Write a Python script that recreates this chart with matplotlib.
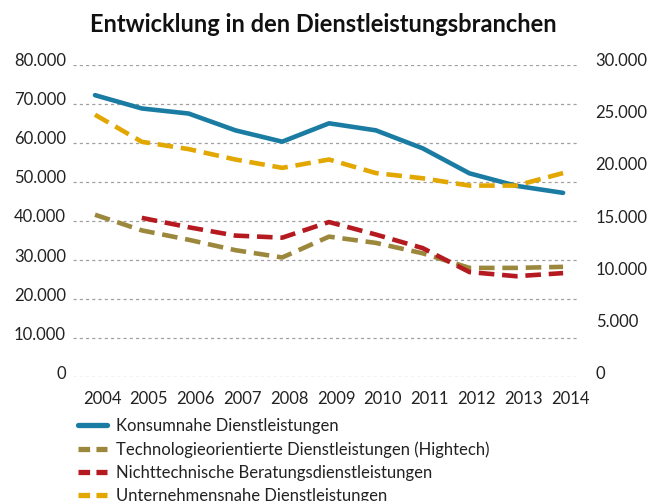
import matplotlib
matplotlib.use("Agg")
import matplotlib.pyplot as plt
from matplotlib.ticker import FuncFormatter
from matplotlib.transforms import ScaledTranslation

plt.rcParams['font.family'] = ['Lato', 'DejaVu Sans']

# Data
years = [2004, 2005, 2006, 2007, 2008, 2009, 2010, 2011, 2012, 2013, 2014]

# left axis
konsumnahe = [72200, 68800, 67500, 63200, 60300, 65000, 63200, 58600, 52200, 49000, 47200]

# right axis
technologie = [15600, 14100, 13200, 12200, 11500, 13500, 12900, 11900, 10500, 10500, 10600]
nichttechnisch_years = years[1:]
nichttechnisch = [15300, 14400, 13600, 13400, 14900, 13700, 12400, 10100, 9700, 10000]
unternehmensnahe = [25200, 22600, 21900, 20900, 20100, 20900, 19600, 19100, 18400, 18400, 19600]

labels = ["Konsumnahe Dienstleistungen",
          "Technologieorientierte Dienstleistungen (Hightech)",
          "Nichttechnische Beratungsdienstleistungen",
          "Unternehmensnahe Dienstleistungen"]

c_blue = "#1a7ca3"
c_olive = "#9c883c"
c_red = "#b51a20"
c_yellow = "#e2a700"

def de_fmt(v, pos):
    return f"{int(round(v)):,}".replace(",", ".")

fig = plt.figure(figsize=(6.61, 5.01), dpi=100)
ax = fig.add_axes([73 / 661, 1 - 377.3 / 501, (579 - 73) / 661, (377.3 - 64.7) / 501])
ax2 = ax.twinx()

dash = (3.4, 1.7)
l1, = ax.plot(years, konsumnahe, color=c_blue, lw=3.3, solid_capstyle='round', zorder=5)
l2, = ax2.plot(years, technologie, color=c_olive, lw=3.3, dashes=dash)
l3, = ax2.plot(nichttechnisch_years, nichttechnisch, color=c_red, lw=3.3, dashes=dash)
l4, = ax2.plot(years, unternehmensnahe, color=c_yellow, lw=3.3, dashes=dash)

ax.set_xlim(2003.53, 2014.34)
ax.set_ylim(0, 80000)
ax2.set_ylim(0, 30000)
ax.set_yticks(range(0, 80001, 10000))
ax2.set_yticks(range(0, 30001, 5000))
ax.set_xticks(years)
ax.yaxis.set_major_formatter(FuncFormatter(de_fmt))
ax2.yaxis.set_major_formatter(FuncFormatter(de_fmt))

ax.grid(axis='y', color='#a0a0a0', lw=0.9, dashes=(2.5, 2.5))
ax.set_axisbelow(True)
for a in (ax, ax2):
    for s in a.spines.values():
        s.set_visible(False)
    a.tick_params(length=0, labelsize=12, colors='#222222')
ax.tick_params(axis='y', pad=5)
ax2.tick_params(axis='y', pad=12)
ax.tick_params(axis='x', pad=10)

up = ScaledTranslation(0, 0.05, fig.dpi_scale_trans)
for lab in ax.get_yticklabels() + ax2.get_yticklabels():
    lab.set_transform(lab.get_transform() + up)
right = ScaledTranslation(0.07, 0, fig.dpi_scale_trans)
for lab in ax.get_xticklabels():
    lab.set_transform(lab.get_transform() + right)

fig.text(323 / 661, 1 - 25 / 501, "Entwicklung in den Dienstleistungsbranchen",
         ha='center', va='center', fontsize=17, fontweight='bold', color='#111111')

leg = fig.legend([l1, l2, l3, l4], labels, loc='upper left',
                 bbox_to_anchor=(78 / 661, 1 - 418 / 501), frameon=False,
                 fontsize=12, handlelength=1.75, handletextpad=0.5,
                 labelspacing=0.42, borderaxespad=0, borderpad=0)
for t in leg.get_texts():
    t.set_color('#222222')
for h in leg.legend_handles:
    h.set_linewidth(3.8)
for h in leg.legend_handles[1:]:
    h.set_dashes((2.2, 1.2))

fig.savefig("out.png", dpi=100)
